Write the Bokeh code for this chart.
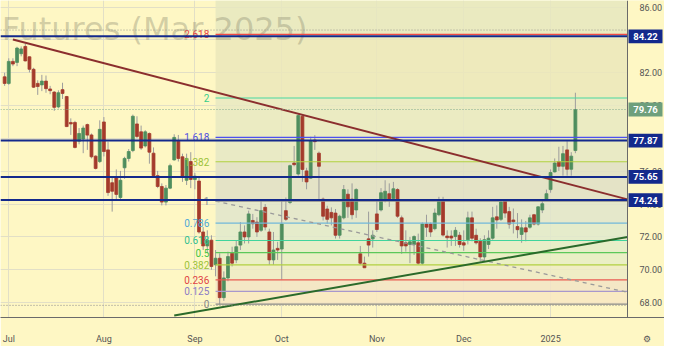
import numpy as np
import pandas as pd
from bokeh.plotting import figure
from bokeh.models import Range1d, FixedTicker, NumeralTickFormatter, ColumnDataSource
from bokeh.core.properties import value
from bokeh.embed import file_html
from bokeh.resources import INLINE

# ---------------- data ----------------
closed_days = ["2024-12-25", "2025-01-01"]
dates = [d for d in pd.bdate_range("2024-06-28", "2025-01-10") if d.strftime("%Y-%m-%d") not in closed_days]

opens = [81.75,
    81.35, 82.69, 82.63, 83.16, 83.60, 82.97, 82.21, 81.35, 81.26, 81.49, 81.01, 80.82, 79.92, 80.97, 80.55, 78.97, 78.97, 77.83, 77.96, 78.84, 78.21, 76.92, 76.59,
    79.00, 77.30, 75.30, 75.64, 74.40, 76.21, 76.78, 77.26, 78.88, 78.40, 77.54, 78.30, 77.10, 75.73, 75.07, 74.12, 74.97, 76.69, 77.83, 76.88, 75.45, 76.59,
    75.50, 75.40, 72.30, 71.45, 71.80, 70.30, 70.70, 68.30, 69.50, 71.00, 70.60, 71.50, 72.30, 72.00, 73.00, 72.90, 72.40, 73.80, 72.30, 70.60, 71.30,
    71.26, 73.60, 74.10, 76.50, 75.83, 79.35, 76.02, 75.58, 77.90, 77.10, 74.30, 73.70, 73.49, 73.45, 72.10, 73.16, 74.60, 74.30, 73.64, 70.97, 70.40, 71.88, 71.88,
    73.40, 73.64, 74.21, 74.63, 74.34, 74.88, 73.16, 71.64, 71.54, 71.54, 71.64, 70.40, 72.78, 72.78, 72.50, 73.35, 74.25, 72.05, 72.05, 72.02, 72.10,
    71.64, 71.83, 73.16, 72.10, 71.73, 70.78, 71.54, 71.92, 73.22, 73.07, 74.21, 73.54, 73.03, 72.63, 72.15, 72.55, 72.59, 73.35, 72.78, 73.64, 74.31,
    74.88, 75.96, 76.59, 76.30, 77.30, 76.12, 77.26]
highs = [82.00,
    82.88, 82.88, 83.58, 83.60, 83.77, 83.00, 82.30, 81.54, 81.87, 81.83, 81.20, 80.88, 80.93, 81.39, 80.59, 79.22, 79.07, 78.63, 78.78, 78.90, 78.30, 76.97, 79.10,
    79.30, 77.80, 75.64, 76.11, 76.02, 76.88, 77.35, 79.45, 79.35, 78.78, 78.50, 78.36, 77.45, 76.02, 75.26, 75.16, 76.46, 78.25, 78.21, 77.07, 77.07, 77.16,
    75.90, 75.60, 72.60, 72.40, 72.10, 71.20, 71.00, 69.90, 71.10, 71.40, 71.80, 72.90, 72.70, 73.60, 73.40, 73.20, 74.20, 74.00, 72.50, 72.30, 71.70,
    74.23, 74.40, 76.40, 77.54, 79.50, 79.45, 76.21, 78.10, 78.20, 77.20, 74.40, 73.90, 73.80, 73.70, 73.35, 75.16, 74.90, 75.26, 74.97, 71.45, 70.80, 73.54, 72.40,
    74.20, 74.97, 75.45, 75.26, 75.35, 74.97, 73.30, 72.40, 72.00, 72.10, 72.20, 72.88, 73.35, 72.88, 73.73, 74.44, 74.44, 72.40, 72.40, 72.60, 72.30,
    72.40, 73.54, 73.54, 72.50, 71.92, 72.10, 72.40, 73.83, 73.92, 74.21, 74.30, 73.83, 73.73, 73.45, 73.07, 72.97, 73.35, 73.40, 73.87, 74.21, 74.88,
    76.11, 76.78, 77.49, 77.54, 77.83, 77.16, 80.78]
lows = [81.20,
    81.26, 82.40, 82.40, 83.00, 82.69, 82.02, 81.07, 80.65, 80.88, 80.78, 80.69, 79.68, 79.83, 80.40, 78.69, 78.21, 77.39, 77.64, 77.10, 77.30, 76.78, 76.11, 76.50,
    76.90, 74.50, 73.54, 74.31, 74.21, 75.54, 76.59, 77.16, 78.02, 77.30, 77.45, 76.46, 75.64, 74.97, 73.92, 73.92, 74.91, 76.65, 76.59, 75.35, 75.16, 74.97,
    74.90, 72.20, 71.20, 71.00, 70.00, 69.60, 67.90, 68.10, 69.30, 70.20, 70.40, 71.20, 71.60, 71.60, 72.50, 72.00, 72.30, 72.40, 70.30, 70.30, 70.60,
    69.40, 72.97, 74.00, 76.30, 75.73, 75.35, 74.90, 75.54, 77.30, 74.20, 73.00, 72.80, 72.70, 71.90, 71.90, 73.07, 73.16, 73.07, 73.16, 70.30, 70.10, 70.80, 71.35,
    72.30, 73.55, 74.10, 73.83, 74.20, 73.16, 70.97, 71.10, 70.40, 70.90, 70.30, 70.30, 72.00, 72.00, 72.40, 73.26, 72.02, 71.35, 71.45, 71.45, 71.35,
    71.15, 71.54, 71.73, 71.54, 70.50, 70.60, 71.26, 71.83, 72.50, 72.97, 73.16, 72.50, 72.21, 71.92, 71.64, 71.73, 72.50, 72.70, 72.69, 73.45, 74.21,
    74.69, 75.92, 76.02, 75.73, 75.73, 75.73, 77.10]
closes = [81.35,
    82.69, 82.53, 83.50, 83.45, 82.72, 82.21, 81.12, 81.16, 81.49, 81.03, 80.91, 79.89, 80.78, 80.74, 78.72, 78.88, 77.45, 78.30, 78.63, 78.20, 76.88, 76.17, 78.55,
    77.20, 74.70, 74.78, 74.59, 75.45, 76.78, 77.20, 79.35, 78.12, 77.41, 78.40, 77.16, 75.73, 75.07, 74.12, 74.97, 76.34, 78.06, 76.78, 75.64, 76.78, 75.50,
    75.70, 72.30, 71.45, 71.80, 70.20, 70.70, 68.30, 69.50, 70.80, 70.40, 71.40, 72.30, 72.00, 73.40, 72.80, 72.30, 73.60, 72.60, 70.60, 71.20, 71.20,
    72.78, 73.07, 76.34, 76.40, 79.39, 76.11, 75.35, 77.87, 77.80, 76.30, 73.26, 73.07, 73.16, 72.10, 73.26, 74.88, 73.83, 73.35, 74.88, 70.40, 70.12, 71.50, 72.10,
    72.45, 74.69, 74.78, 74.30, 74.93, 73.26, 71.45, 71.45, 71.70, 72.02, 70.40, 72.78, 72.59, 72.30, 73.45, 74.25, 72.11, 71.95, 71.93, 72.40, 71.54,
    71.50, 73.16, 71.92, 71.64, 70.78, 71.83, 71.92, 73.16, 73.03, 74.12, 73.45, 72.78, 72.92, 72.44, 72.55, 72.30, 73.16, 72.78, 73.83, 74.02, 74.63,
    75.92, 76.50, 76.30, 77.07, 76.12, 76.92, 79.76]

month_labels = ["Jul", "Aug", "Sep", "Oct", "Nov", "Dec", "2025"]
price_ticks = [68, 70, 72, 74, 76, 78, 80, 82, 84, 86]

level_prices = [84.22, 77.87, 75.65, 74.24]
last_price = 79.76
range_high_line = 84.60
range_low_line = 67.83

fib_anchor_date = "2024-09-09"
fib_low, fib_high = 67.90, 74.18
fib_ratios = [0, 0.125, 0.236, 0.382, 0.5, 0.618, 0.786, 1, 1.382, 1.618, 2, 2.618]
fib_texts = ["0", "0.125", "0.236", "0.382", "0.5", "0.618", "0.786", "1", "1.382", "1.618", "2", "2.618"]

res_dates, res_prices = ["2024-07-02", "2024-10-07"], [84.02, 79.50]
sup_dates, sup_prices = ["2024-08-26", "2024-12-06"], [67.21, 70.44]
dash_dates, dash_prices = ["2024-09-09", "2024-12-31"], [74.18, 69.72]

# ---------------- layout constants ----------------
W, H = 664, 346
AXIS_W, AXIS_H = 37, 24
FRAME_H = H - AXIS_H
PLOT_W = W - AXIS_W          # candle area width in px (price strip lives inside the frame)

n = len(dates)
xs = np.arange(n) - 1  # Jul 1 = 0
date_str = [d.strftime("%Y-%m-%d") for d in dates]
pos = {s: x for s, x in zip(date_str, xs)}
month_ticks = [int(xs[i]) for i in range(1, n) if dates[i].month != dates[i - 1].month]

X0, X1 = -2.0, 149.6          # candle area
Y0, Y1 = 67.09, 86.4
ppx = PLOT_W / (X1 - X0)       # px per bar
ppy = FRAME_H / (Y1 - Y0)      # px per price unit
X_END = X1 + AXIS_W / ppx      # right end including the price strip

gear_x = X1 + 19 / ppx
x_ticks = month_ticks + [gear_x]
x_labels = month_labels + ["\u2699"]

p = figure(width=W, height=H, x_range=Range1d(X0, X_END), y_range=Range1d(Y0, Y1),
           output_backend="svg", toolbar_location=None, y_axis_location="right",
           min_border_left=0, min_border_top=0, min_border_right=0, min_border_bottom=AXIS_H)
BG = "#FEF7C4"
p.background_fill_color = BG
p.border_fill_color = BG
p.outline_line_color = None

# axes
p.yaxis.fixed_location = X1
p.yaxis.ticker = FixedTicker(ticks=price_ticks)
p.ygrid.ticker = FixedTicker(ticks=price_ticks)
p.yaxis.formatter = NumeralTickFormatter(format="0.00")
p.xaxis.ticker = FixedTicker(ticks=x_ticks)
p.xgrid.ticker = FixedTicker(ticks=month_ticks)
p.xaxis.major_label_overrides = {t: l for t, l in zip(x_ticks, x_labels)}
for ax in (p.xaxis[0], p.yaxis[0]):
    ax.major_tick_line_color = None
    ax.minor_tick_line_color = None
    ax.axis_line_color = "#6a6a6a"
    ax.major_label_text_font = "Roboto"
    ax.major_label_text_font_size = "9px"
    ax.major_label_text_color = "#555555"
p.yaxis.major_label_standoff = 6
p.xaxis.major_label_standoff = 10
p.grid.grid_line_color = "#E2DFC6"

# price strip background (hides grid there)
p.quad(left=[X1], right=[X_END], bottom=[Y0], top=[Y1], fill_color=BG, line_color=None)

# fib bands
fib_prices = [fib_low + r * (fib_high - fib_low) for r in fib_ratios]
fx0 = pos[fib_anchor_date]
band_colors = ["#F8E8C2", "#F2E4C6", "#EDEBC6", "#E6EDC6", "#E3ECC9", "#E1EACC", "#E1E5CC",
               "#DFDFC7", "#E5E8C5", "#E8E9C2", "#EBE8BB", "#E6E7C0"]
band_bottoms = fib_prices
band_tops = fib_prices[1:] + [Y1]
p.quad(left=[fx0] * len(band_bottoms), right=[X1] * len(band_bottoms), bottom=band_bottoms, top=band_tops,
       fill_color=band_colors, fill_alpha=0.85, line_color=None)

# watermark
p.text(x=[X0 + 0.3], y=[84.65], text=["Futures (Mar 2025)"], text_font=value("DejaVu Sans"),
       text_font_size="32px", text_color="#8C8A70", text_alpha=0.38, text_baseline="alphabetic")

# candles
o = np.array(opens); c = np.array(closes)
src = ColumnDataSource(dict(x=xs, h=highs, l=lows, top=np.maximum(o, c), bot=np.minimum(o, c),
                            col=["#4F8E5E" if cc >= oo else "#A43B2C" for oo, cc in zip(o, c)]))
p.segment(x0="x", x1="x", y0="h", y1="l", source=src, line_color="#9C9C9C", line_width=1)
p.vbar(x="x", width=0.7, top="top", bottom="bot", source=src, fill_color="col", line_color="col", line_width=0.8)

# fib lines + labels
line_cols = ["#8A8A8A", "#A898CC", "#E85A50", "#B0D040", "#5CC85A", "#40D49C", "#70B8DA",
             "#8A8A8A", "#B0D040", "#4C50F0", "#48D8A0", "#F04A46"]
text_cols = ["#8A8A8A", "#8C7CC4", "#E04444", "#9CC23A", "#44C444", "#30C090", "#50A8D8",
             "#8A8A8A", "#9CC23A", "#5050E0", "#38CC8C", "#E84444"]
p.segment(x0=[fx0] * len(fib_prices), x1=[X1] * len(fib_prices), y0=fib_prices, y1=fib_prices,
          line_color=line_cols, line_width=1.2)
p.text(x=[fx0 - 1.5] * len(fib_prices), y=fib_prices, text=fib_texts, text_align="right",
       text_baseline="middle", text_color=text_cols, text_font=value("Roboto"), text_font_size="10px")

# trend lines
def extend(dts, prs):
    xa, xb = pos[dts[0]], pos[dts[1]]
    slope = (prs[1] - prs[0]) / (xb - xa)
    return [xa, X1], [prs[0], prs[0] + slope * (X1 - xa)]

dx, dy = extend(dash_dates, dash_prices)
p.line(dx, dy, line_color="#9A9A9A", line_width=1.3, line_dash="4 4")
rx, ry = extend(res_dates, res_prices)
p.line(rx, ry, line_color="#8B2E2E", line_width=2)
sx, sy = extend(sup_dates, sup_prices)
p.line(sx, sy, line_color="#2A6A2A", line_width=2)

# horizontal levels (end at the price axis)
nl = len(level_prices)
p.segment(x0=[X0] * nl, x1=[X1] * nl, y0=level_prices, y1=level_prices, line_color="#13298C", line_width=2)
p.segment(x0=[X0], x1=[X1], y0=[range_high_line], y1=[range_high_line], line_color="#9A9A90", line_dash="1 2", line_width=1)
p.segment(x0=[X0], x1=[X1], y0=[last_price], y1=[last_price], line_color="#7FA88C", line_dash="1 2", line_width=1)
p.segment(x0=[X0], x1=[X1], y0=[range_low_line], y1=[range_low_line], line_color="#8A8A8A", line_dash="1 2", line_width=1)

# price boxes on the axis (drawn above the axis labels)
box_prices = level_prices + [last_price]
box_colors = ["#13298C"] * nl + ["#6E9F7C"]
bx0, bx1 = X1 + 1 / ppx, X1 + 35 / ppx
bh = 7 / ppy
p.quad(left=[bx0] * len(box_prices), right=[bx1] * len(box_prices),
       bottom=[v - bh for v in box_prices], top=[v + bh for v in box_prices],
       fill_color=box_colors, line_color=None, level="overlay")
p.text(x=[(bx0 + bx1) / 2] * len(box_prices), y=box_prices, text=[f"{v:.2f}" for v in box_prices],
       text_align="center", text_baseline="middle", text_color="white", text_font=value("Roboto"),
       text_font_style="bold", text_font_size="9.5px", level="overlay")

open("out.html", "w").write(file_html(p, INLINE))
